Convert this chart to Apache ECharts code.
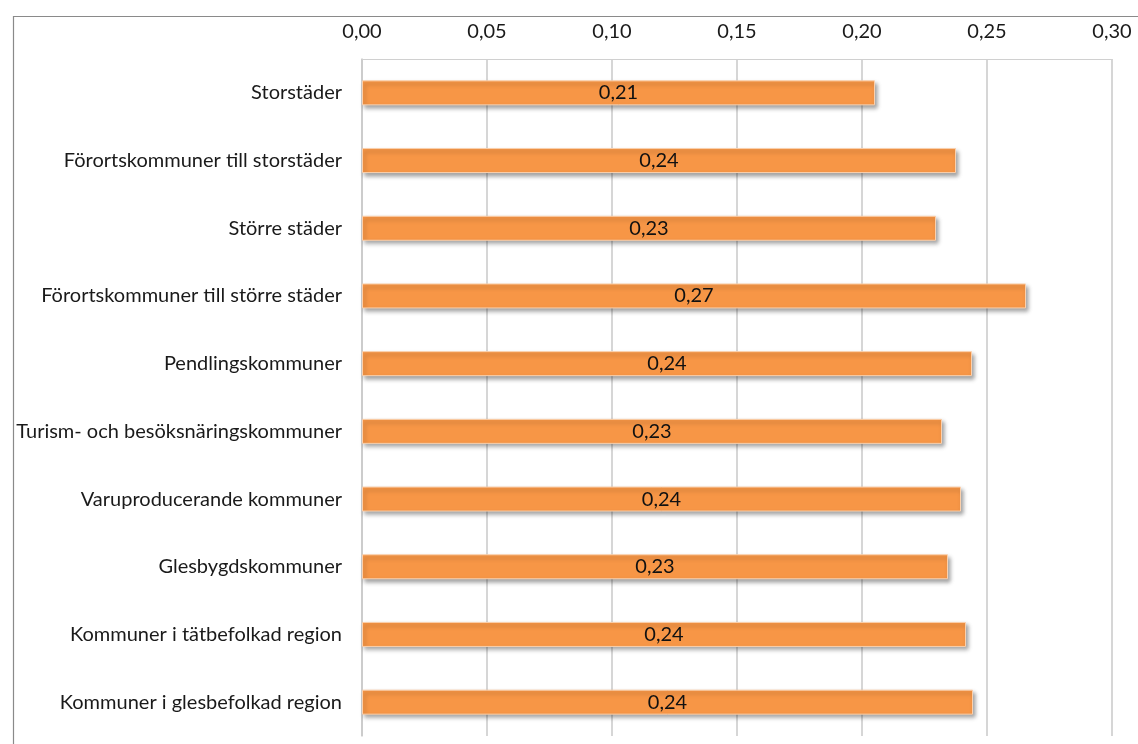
<!DOCTYPE html>
<html>
<head>
<meta charset="utf-8">
<script src="https://cdn.jsdelivr.net/npm/echarts@6/dist/echarts.min.js"></script>
<style>
  html, body { margin: 0; padding: 0; background: #ffffff; }
  #chart { width: 1138px; height: 744px; }
</style>
</head>
<body>
<div id="chart"></div>
<script>
// Kommungrupper, top to bottom
const categories = [
  'Storstäder',
  'Förortskommuner till storstäder',
  'Större städer',
  'Förortskommuner till större städer',
  'Pendlingskommuner',
  'Turism- och besöksnäringskommuner',
  'Varuproducerande kommuner',
  'Glesbygdskommuner',
  'Kommuner i tätbefolkad region',
  'Kommuner i glesbefolkad region'
];

// Andel per kommungrupp
const values = [0.2052, 0.2376, 0.2296, 0.2656, 0.2440, 0.2320, 0.2396, 0.2344, 0.2416, 0.2444];

// Axis range
const axisMin = 0;
const axisMax = 0.30;
const axisStep = 0.05;

const fmt = v => v.toFixed(2).replace('.', ',');
const FONT = 'Lato, "Noto Sans", sans-serif';
const FS = 20;

const chart = echarts.init(document.getElementById('chart'), null, { renderer: 'canvas' });

chart.setOption({
  animation: false,
  backgroundColor: '#ffffff',
  graphic: [{
    type: 'rect',
    left: 11,
    top: 14,
    shape: { width: 1160, height: 760 },
    style: { fill: 'none', stroke: '#8a8a8a', lineWidth: 1.2 },
    silent: true,
    z: -1
  }],
  grid: { left: 362, right: 26, top: 59, bottom: 8, containLabel: false },
  xAxis: {
    type: 'value',
    position: 'top',
    min: axisMin,
    max: axisMax,
    interval: axisStep,
    axisLine: { show: true, lineStyle: { color: '#d0d0d0', width: 1 } },
    axisTick: { show: false },
    axisLabel: {
      formatter: v => fmt(v),
      color: '#1a1a1a',
      fontFamily: FONT,
      fontSize: FS,
      margin: 17
    },
    splitLine: { show: true, lineStyle: { color: '#c8c8c8', width: 1.5 } }
  },
  yAxis: {
    type: 'category',
    inverse: true,
    data: categories,
    axisLine: { show: true, lineStyle: { color: '#c8c8c8', width: 1.5 } },
    axisTick: { show: false },
    axisLabel: {
      color: '#1a1a1a',
      fontFamily: FONT,
      fontSize: FS,
      margin: 20
    }
  },
  series: [{
    type: 'bar',
    data: values,
    barWidth: 25,
    itemStyle: {
      color: '#F79646',
      borderColor: '#FBD0AC',
      borderWidth: 1,
      shadowColor: 'rgba(0,0,0,0.35)',
      shadowBlur: 4,
      shadowOffsetX: 2,
      shadowOffsetY: 3
    },
    label: {
      show: true,
      position: 'inside',
      formatter: p => fmt(p.value),
      color: '#111111',
      fontFamily: FONT,
      fontSize: FS
    }
  }]
});
</script>
</body>
</html>
